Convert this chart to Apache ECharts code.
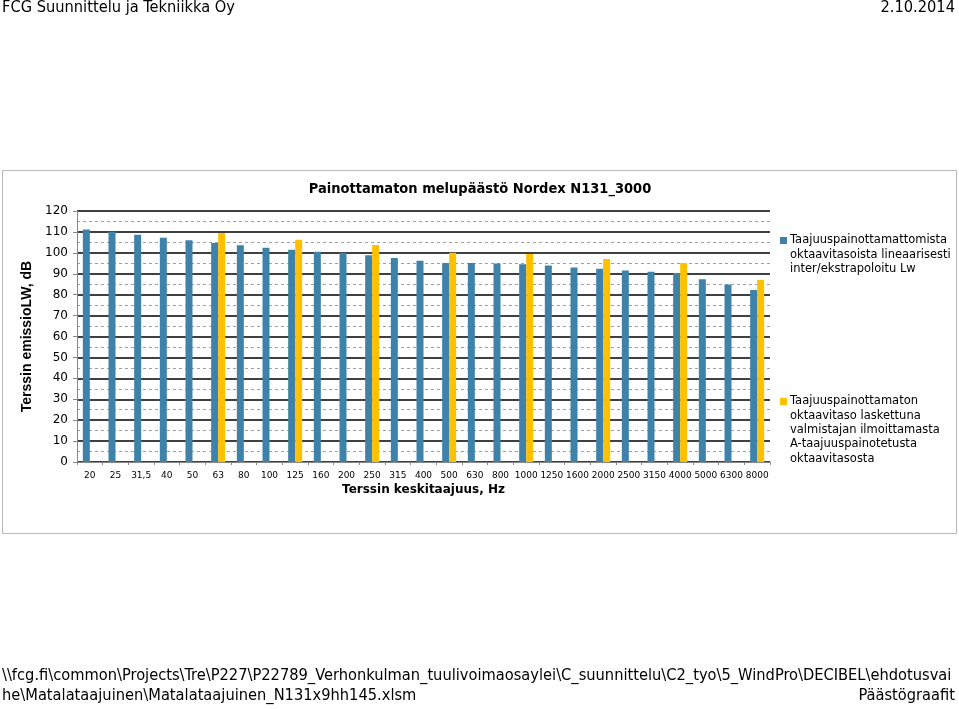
<!DOCTYPE html>
<html><head><meta charset="utf-8">
<script src="https://cdn.jsdelivr.net/npm/echarts@6/dist/echarts.min.js"></script>
<style>html,body{margin:0;padding:0;background:#fff}#c{width:959px;height:709px}</style>
</head><body><div id="c"></div>
<script>
const categories = ["20","25","31,5","40","50","63","80","100","125","160","200","250","315","400","500","630","800","1000","1250","1600","2000","2500","3150","4000","5000","6300","8000"];
const blueValues = [111.2,110.1,108.7,107.2,106.0,104.7,103.6,102.4,101.5,100.5,100.0,98.8,97.5,96.2,95.1,95.1,94.9,94.6,94.0,93.0,92.4,91.6,91.0,90.3,87.4,84.9,82.2];
const yellowValues = [null,null,null,null,null,109.5,null,null,106.3,null,null,103.7,null,null,100.0,null,null,99.4,null,null,97.0,null,null,95.1,null,null,87.0];
const yTicks = {min:0, max:120, interval:10};
const seriesNames = ["Taajuuspainottamattomista\noktaavitasoista lineaarisesti\ninter/ekstrapoloitu Lw",
  "Taajuuspainottamaton\noktaavitaso laskettuna\nvalmistajan ilmoittamasta\nA-taajuuspainotetusta\noktaavitasosta"];
const seriesColors = ['#3e82aa', '#ffc000'];

const chart = echarts.init(document.getElementById('c'), null, {renderer:'canvas'});
const vf = 'Verdana, "DejaVu Sans", sans-serif';
const hf = '16.3px "DejaVu Sans Condensed", sans-serif';
const LH = 14.3;
const legendTops = [237, 398];
const legendGraphics = [];
seriesNames.forEach((n, i) => {
  legendGraphics.push({type:'rect', shape:{x:780, y:legendTops[i], width:7, height:7}, style:{fill:seriesColors[i]}});
  legendGraphics.push({type:'text', x:790, y:legendTops[i] + 3.5 - LH/2,
    style:{text:n, font:'11.5px ' + vf, fill:'#000', lineHeight:LH, verticalAlign:'top'}});
});
chart.setOption({
  animation:false,
  backgroundColor:'#fff',
  title:{text:'Painottamaton melupäästö Nordex N131_3000', left:475, top:177, textAlign:'center',
    textStyle:{fontFamily:'Tahoma, "DejaVu Sans Condensed", sans-serif', fontSize:14.5, fontWeight:'bold', color:'#000'}},
  legend:{show:false},
  graphic:[
    {type:'rect', shape:{x:2.5,y:170.5,width:954,height:363}, style:{fill:'none', stroke:'#b8b8b8', lineWidth:1}, z:-1},
    {type:'text', left:2, top:0, style:{text:'FCG Suunnittelu ja Tekniikka Oy', font:hf, fill:'#000'}},
    {type:'text', right:4, top:0, style:{text:'2.10.2014', font:hf, fill:'#000'}},
    {type:'text', left:2, top:668, style:{text:'\\\\fcg.fi\\common\\Projects\\Tre\\P227\\P22789_Verhonkulman_tuulivoimaosaylei\\C_suunnittelu\\C2_tyo\\5_WindPro\\DECIBEL\\ehdotusvai', font:hf, fill:'#000'}},
    {type:'text', left:2, top:688, style:{text:'he\\Matalataajuinen\\Matalataajuinen_N131x9hh145.xlsm', font:hf, fill:'#000'}},
    {type:'text', right:4, top:688, style:{text:'Päästögraafit', font:hf, fill:'#000'}}
  ].concat(legendGraphics),
  grid:{left:77, right:189, top:211, bottom:247},
  xAxis:{type:'category', data:categories,
    name:'Terssin keskitaajuus, Hz', nameLocation:'middle', nameGap:22,
    nameTextStyle:{fontFamily:vf, fontSize:12, fontWeight:'bold', color:'#000'},
    axisLine:{lineStyle:{color:'#888'}}, axisTick:{show:true, length:3, lineStyle:{color:'#888'}},
    axisLabel:{interval:0, fontFamily:vf, fontSize:9, color:'#000', margin:9}},
  yAxis:{type:'value', min:yTicks.min, max:yTicks.max, interval:yTicks.interval,
    name:'Terssin emissioLW, dB', nameLocation:'middle', nameGap:31, nameRotate:90,
    nameTextStyle:{fontFamily:'"Liberation Sans", Arial, sans-serif', fontSize:14, fontWeight:'bold', color:'#000'},
    axisLine:{show:true, lineStyle:{color:'#888'}}, axisTick:{show:true, length:4, lineStyle:{color:'#888'}},
    axisLabel:{fontFamily:vf, fontSize:12, color:'#000', margin:9},
    splitLine:{lineStyle:{color:'#000', width:1.5}},
    minorTick:{show:false, splitNumber:2},
    minorSplitLine:{show:true, lineStyle:{color:'#a0a0a0', type:[3,3], width:1}}},
  series:[
    {name:seriesNames[0], type:'bar', data:blueValues, barWidth:7, barGap:'0%', itemStyle:{color:seriesColors[0]}},
    {name:seriesNames[1], type:'bar', data:yellowValues, barWidth:7, barGap:'0%', itemStyle:{color:seriesColors[1]}}
  ]
});
</script></body></html>
